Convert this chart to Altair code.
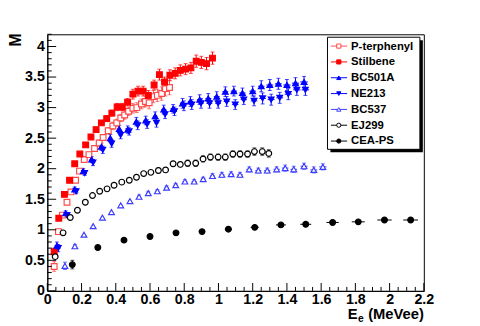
import altair as alt
import pandas as pd

# ---------------- data ----------------
names = ["P-terphenyl", "Stilbene", "BC501A", "NE213", "BC537", "EJ299", "CEA-PS"]
colors = ["#ff4a4a", "#ff0000", "#0000ff", "#0000ff", "#3c3cff", "#000000", "#000000"]
shapes = ["square", "square", "triangle-up", "triangle-down", "triangle-up", "circle", "circle"]
fills = ["white", "#ff0000", "#0000ff", "#0000ff", "white", "white", "#000000"]

pt_x = [0.040, 0.065, 0.088, 0.115, 0.138, 0.165, 0.188, 0.216, 0.243, 0.276, 0.303, 0.326, 0.356, 0.383,
        0.406, 0.429, 0.452, 0.475, 0.500, 0.523, 0.550, 0.573, 0.595, 0.620, 0.643, 0.668, 0.690, 0.714]
pt_y = [0.40, 0.97, 1.24, 1.45, 1.62, 1.81, 1.96, 2.15, 2.23, 2.33, 2.42, 2.51, 2.62, 2.70,
        2.75, 2.83, 2.88, 2.94, 2.99, 3.00, 3.06, 3.10, 3.08, 3.18, 3.20, 3.23, 3.31, 3.33]
pt_ey = [0.08, 0.03, 0.03, 0.03, 0.03, 0.03, 0.03, 0.04, 0.04, 0.04, 0.05, 0.05, 0.05, 0.06,
         0.06, 0.06, 0.07, 0.07, 0.08, 0.08, 0.08, 0.09, 0.10, 0.10, 0.10, 0.11, 0.12, 0.12]

st_x = [0.040, 0.067, 0.100, 0.130, 0.160, 0.190, 0.224, 0.255, 0.285, 0.316, 0.347, 0.377, 0.408, 0.438,
        0.469, 0.500, 0.530, 0.560, 0.590, 0.624, 0.655, 0.685, 0.716, 0.747, 0.777, 0.808, 0.839, 0.870,
        0.900, 0.930, 0.965]
st_y = [0.64, 1.19, 1.58, 1.81, 2.08, 2.24, 2.39, 2.52, 2.64, 2.75, 2.82, 2.91, 3.01, 3.01,
        3.09, 3.22, 3.27, 3.27, 3.20, 3.37, 3.54, 3.42, 3.53, 3.56, 3.61, 3.63, 3.65, 3.76,
        3.74, 3.72, 3.81]
st_ey = [0.06, 0.03, 0.03, 0.03, 0.03, 0.03, 0.04, 0.04, 0.04, 0.04, 0.05, 0.05, 0.06, 0.06,
         0.06, 0.08, 0.08, 0.08, 0.08, 0.08, 0.09, 0.08, 0.09, 0.09, 0.09, 0.09, 0.09, 0.10,
         0.10, 0.10, 0.10]

bl_x = [0.056, 0.107, 0.160, 0.210, 0.259, 0.316, 0.368, 0.420, 0.470, 0.520, 0.575, 0.630, 0.680, 0.735,
        0.790, 0.836, 0.890, 0.940, 0.990, 1.040, 1.090, 1.140, 1.200, 1.250, 1.300, 1.350, 1.400, 1.450,
        1.500]
bc501_y = [0.74, 1.27, 1.66, 1.96, 2.15, 2.36, 2.50, 2.65, 2.64, 2.77, 2.79, 2.86, 2.97, 2.98,
           3.07, 3.10, 3.13, 3.15, 3.18, 3.26, 3.27, 3.24, 3.27, 3.35, 3.37, 3.39, 3.37, 3.40,
           3.42]
ne213_y = [0.70, 1.24, 1.63, 1.93, 2.10, 2.31, 2.41, 2.55, 2.61, 2.71, 2.73, 2.75, 2.89, 2.94,
           3.03, 3.05, 3.07, 3.07, 3.07, 3.10, 3.05, 3.13, 3.11, 3.15, 3.13, 3.16, 3.22, 3.29,
           3.29]
bl_ey = [0.06, 0.04, 0.04, 0.04, 0.05, 0.06, 0.06, 0.06, 0.06, 0.07, 0.07, 0.07, 0.07, 0.07,
         0.08, 0.08, 0.08, 0.08, 0.08, 0.08, 0.08, 0.08, 0.08, 0.09, 0.09, 0.09, 0.09, 0.09,
         0.09]
bl_ex = [0.008, 0.008, 0.009, 0.009, 0.010, 0.010, 0.011, 0.011, 0.012, 0.012, 0.013, 0.013, 0.014, 0.014,
         0.015, 0.015, 0.016, 0.016, 0.017, 0.017, 0.018, 0.018, 0.019, 0.019, 0.020, 0.020, 0.021, 0.021,
         0.022]

b537_x = [0.103, 0.161, 0.214, 0.268, 0.322, 0.375, 0.429, 0.483, 0.536, 0.590, 0.643, 0.697, 0.750, 0.804,
          0.858, 0.911, 0.965, 1.020, 1.074, 1.126, 1.180, 1.233, 1.285, 1.340, 1.390, 1.440, 1.500, 1.557,
          1.610]
b537_y = [0.41, 0.73, 0.92, 1.06, 1.20, 1.29, 1.40, 1.47, 1.54, 1.60, 1.63, 1.69, 1.73, 1.79,
          1.79, 1.83, 1.88, 1.90, 1.91, 1.90, 1.99, 1.97, 1.97, 1.99, 2.01, 1.99, 2.04, 1.98,
          2.03]
b537_ey = [0.06, 0.03, 0.02, 0.02, 0.02, 0.02, 0.02, 0.02, 0.03, 0.03, 0.03, 0.03, 0.03, 0.03,
           0.03, 0.03, 0.04, 0.04, 0.04, 0.04, 0.04, 0.04, 0.04, 0.04, 0.05, 0.05, 0.05, 0.05,
           0.05]
b537_ex = [0.006, 0.007, 0.008, 0.008, 0.009, 0.009, 0.010, 0.010, 0.011, 0.011, 0.012, 0.012, 0.013, 0.013,
           0.014, 0.014, 0.015, 0.015, 0.016, 0.016, 0.017, 0.017, 0.018, 0.018, 0.019, 0.019, 0.020, 0.020,
           0.021]

ej_x = [0.046, 0.092, 0.134, 0.176, 0.222, 0.264, 0.306, 0.349, 0.390, 0.435, 0.479, 0.521, 0.563, 0.605,
        0.649, 0.691, 0.735, 0.777, 0.820, 0.867, 0.910, 0.953, 0.998, 1.040, 1.084, 1.126, 1.170, 1.210,
        1.256, 1.294]
ej_y = [0.56, 0.95, 1.20, 1.32, 1.45, 1.56, 1.63, 1.67, 1.73, 1.78, 1.81, 1.86, 1.92, 1.94,
        1.97, 1.98, 2.08, 2.07, 2.09, 2.09, 2.16, 2.19, 2.19, 2.19, 2.24, 2.24, 2.24, 2.28,
        2.28, 2.25]
ej_ey = [0.03, 0.02, 0.02, 0.02, 0.02, 0.02, 0.02, 0.02, 0.02, 0.03, 0.03, 0.03, 0.03, 0.03,
         0.04, 0.04, 0.04, 0.04, 0.05, 0.05, 0.05, 0.05, 0.05, 0.05, 0.05, 0.05, 0.05, 0.06,
         0.06, 0.06]
ej_ex = [0.004, 0.004, 0.005, 0.005, 0.005, 0.006, 0.006, 0.006, 0.007, 0.007, 0.007, 0.008, 0.008, 0.008,
         0.009, 0.009, 0.009, 0.010, 0.010, 0.010, 0.011, 0.011, 0.011, 0.012, 0.012, 0.012, 0.013, 0.013,
         0.013, 0.014]

cea_x = [0.146, 0.295, 0.448, 0.600, 0.752, 0.904, 1.058, 1.212, 1.365, 1.510, 1.667, 1.817, 1.970, 2.123]
cea_y = [0.43, 0.71, 0.83, 0.89, 0.95, 0.97, 1.01, 1.04, 1.08, 1.09, 1.12, 1.13, 1.16, 1.16]
cea_ey = [0.07, 0.02, 0.01, 0.01, 0.01, 0.01, 0.01, 0.01, 0.01, 0.01, 0.01, 0.01, 0.01, 0.01]
cea_ex = [0.003, 0.006, 0.009, 0.011, 0.014, 0.018, 0.021, 0.024, 0.029, 0.032, 0.036, 0.038, 0.042, 0.043]

x_major = [0, 0.2, 0.4, 0.6, 0.8, 1, 1.2, 1.4, 1.6, 1.8, 2, 2.2]
y_major = [0, 0.5, 1, 1.5, 2, 2.5, 3, 3.5, 4]

# ---------------- table ----------------
series_data = [
    ("P-terphenyl", pt_x, pt_y, pt_ey, [0] * len(pt_x)),
    ("Stilbene", st_x, st_y, st_ey, [0] * len(st_x)),
    ("BC501A", bl_x, bc501_y, bl_ey, bl_ex),
    ("NE213", [v + 0.008 for v in bl_x], ne213_y, bl_ey, bl_ex),
    ("BC537", b537_x, b537_y, b537_ey, b537_ex),
    ("EJ299", ej_x, ej_y, ej_ey, ej_ex),
    ("CEA-PS", cea_x, cea_y, cea_ey, cea_ex),
]
rows = []
for name, xs_, ys_, eys, exs in series_data:
    for x, y, ey, ex in zip(xs_, ys_, eys, exs):
        rows.append({"series": name, "x": x, "y": y, "ylo": y - ey, "yhi": y + ey,
                     "xlo": x - ex, "xhi": x + ex, "ey": ey})
df = pd.DataFrame(rows)

W, H = 383, 261
FONT = "Liberation Sans"
xsc = alt.Scale(domain=[0, 2.2], nice=False, zero=False)
ysc = alt.Scale(domain=[0, 4.2], nice=False, zero=False)
xaxis = alt.Axis(values=x_major, labelExpr="'' + datum.value", title=None, grid=False, ticks=False,
                 domain=True, domainColor="black", labelFont=FONT, labelFontWeight="bold",
                 labelFontSize=14.5, labelColor="black", labelPadding=2, labelFlush=False)
yaxis = alt.Axis(values=y_major, labelExpr="'' + datum.value", title=None, grid=False, ticks=False,
                 domain=True, domainColor="black", labelFont=FONT, labelFontWeight="bold",
                 labelFontSize=14.5, labelColor="black", labelPadding=3, labelFlush=False)
cscale = alt.Scale(domain=names, range=colors)

base = alt.Chart(df)
X = lambda f: alt.X(f, scale=xsc, axis=xaxis)
Y = lambda f: alt.Y(f, scale=ysc, axis=yaxis)
col = alt.Color("series:N", scale=cscale, legend=None)

ebar_v = base.mark_rule(strokeWidth=1).encode(x=X("x:Q"), y=Y("ylo:Q"), y2="yhi:Q", color=col)
ebar_h = base.mark_rule(strokeWidth=1).encode(x=X("xlo:Q"), x2="xhi:Q", y=Y("y:Q"), color=col)
caps = base.transform_filter("datum.ey >= 0.03")
cap_hi = caps.mark_tick(orient="horizontal", size=4, thickness=1).encode(x=X("x:Q"), y=Y("yhi:Q"), color=col)
cap_lo = caps.mark_tick(orient="horizontal", size=4, thickness=1).encode(x=X("x:Q"), y=Y("ylo:Q"), color=col)
points = base.mark_point(size=34, strokeWidth=1.2, opacity=1, fillOpacity=1).encode(
    x=X("x:Q"), y=Y("y:Q"),
    shape=alt.Shape("series:N", scale=alt.Scale(domain=names, range=shapes), legend=None),
    stroke=alt.Stroke("series:N", scale=cscale, legend=None),
    fill=alt.Fill("series:N", scale=alt.Scale(domain=names, range=fills), legend=None),
)

# inward ticks
x_minor = [round(i * 0.05, 2) for i in range(45) if i % 4 != 0]
y_minor = [round(i * 0.1, 1) for i in range(43) if i % 5 != 0]
xt_major = alt.Chart(pd.DataFrame({"x": x_major})).mark_rule(color="black").encode(
    x=X("x:Q"), y=alt.value(H), y2=alt.value(H - 8))
xt_minor = alt.Chart(pd.DataFrame({"x": x_minor})).mark_rule(color="black").encode(
    x=X("x:Q"), y=alt.value(H), y2=alt.value(H - 4))
yt_major = alt.Chart(pd.DataFrame({"y": y_major})).mark_rule(color="black").encode(
    y=Y("y:Q"), x=alt.value(0), x2=alt.value(9))
yt_minor = alt.Chart(pd.DataFrame({"y": y_minor})).mark_rule(color="black").encode(
    y=Y("y:Q"), x=alt.value(0), x2=alt.value(4.5))

one = pd.DataFrame({"a": [0]})
ytitle = alt.Chart(one).mark_text(text="M", font=FONT, fontWeight="bold", fontSize=16, angle=270,
                                  align="right", baseline="alphabetic", color="black").encode(
    x=alt.value(-27), y=alt.value(-1))
XT_Y = 290
xt1 = alt.Chart(one).mark_text(text="(MeVee)", font=FONT, fontWeight="bold", fontSize=15,
                               align="right", baseline="alphabetic", color="black").encode(
    x=alt.value(W), y=alt.value(XT_Y))
xt2 = alt.Chart(one).mark_text(text="e", font=FONT, fontWeight="bold", fontSize=10.5,
                               align="right", baseline="alphabetic", color="black").encode(
    x=alt.value(W - 61), y=alt.value(XT_Y + 3))
xt3 = alt.Chart(one).mark_text(text="E", font=FONT, fontWeight="bold", fontSize=15,
                               align="right", baseline="alphabetic", color="black").encode(
    x=alt.value(W - 67.5), y=alt.value(XT_Y))

# legend
shadow = alt.Chart(one).mark_rect(color="black").encode(
    x=alt.value(288), x2=alt.value(382), y=alt.value(6), y2=alt.value(120))
box = alt.Chart(one).mark_rect(fill="white", stroke="black", strokeWidth=1).encode(
    x=alt.value(285), x2=alt.value(379), y=alt.value(3), y2=alt.value(117))
leg_layers = [shadow, box]
for i, (n, c, s, f) in enumerate(zip(names, colors, shapes, fills)):
    ly = 12 + 16.1 * i
    leg_layers.append(alt.Chart(one).mark_rule(color=c, strokeWidth=1).encode(
        x=alt.value(288.5), x2=alt.value(305), y=alt.value(ly)))
    leg_layers.append(alt.Chart(one).mark_point(shape=s, stroke=c, fill=f, filled=True, fillOpacity=1,
                                                strokeWidth=1, size=18, opacity=1).encode(
        x=alt.value(296.5), y=alt.value(ly)))
    leg_layers.append(alt.Chart(one).mark_text(text=n, font=FONT, fontWeight="bold", fontSize=11.5,
                                               align="left", baseline="middle", color="black").encode(
        x=alt.value(309), y=alt.value(ly + 0.5)))

chart = alt.layer(
    ebar_v, ebar_h, cap_hi, cap_lo, points,
    xt_major, xt_minor, yt_major, yt_minor,
    ytitle, xt1, xt2, xt3, *leg_layers
).properties(
    width=W, height=H,
    padding={"left": 40, "top": 24, "right": 49, "bottom": 34},
    autosize=alt.AutoSizeParams(type="none"),
    background="white",
).configure_view(stroke="black", strokeWidth=1)

chart.save("out.html", embed_options={"renderer": "svg", "actions": False})
